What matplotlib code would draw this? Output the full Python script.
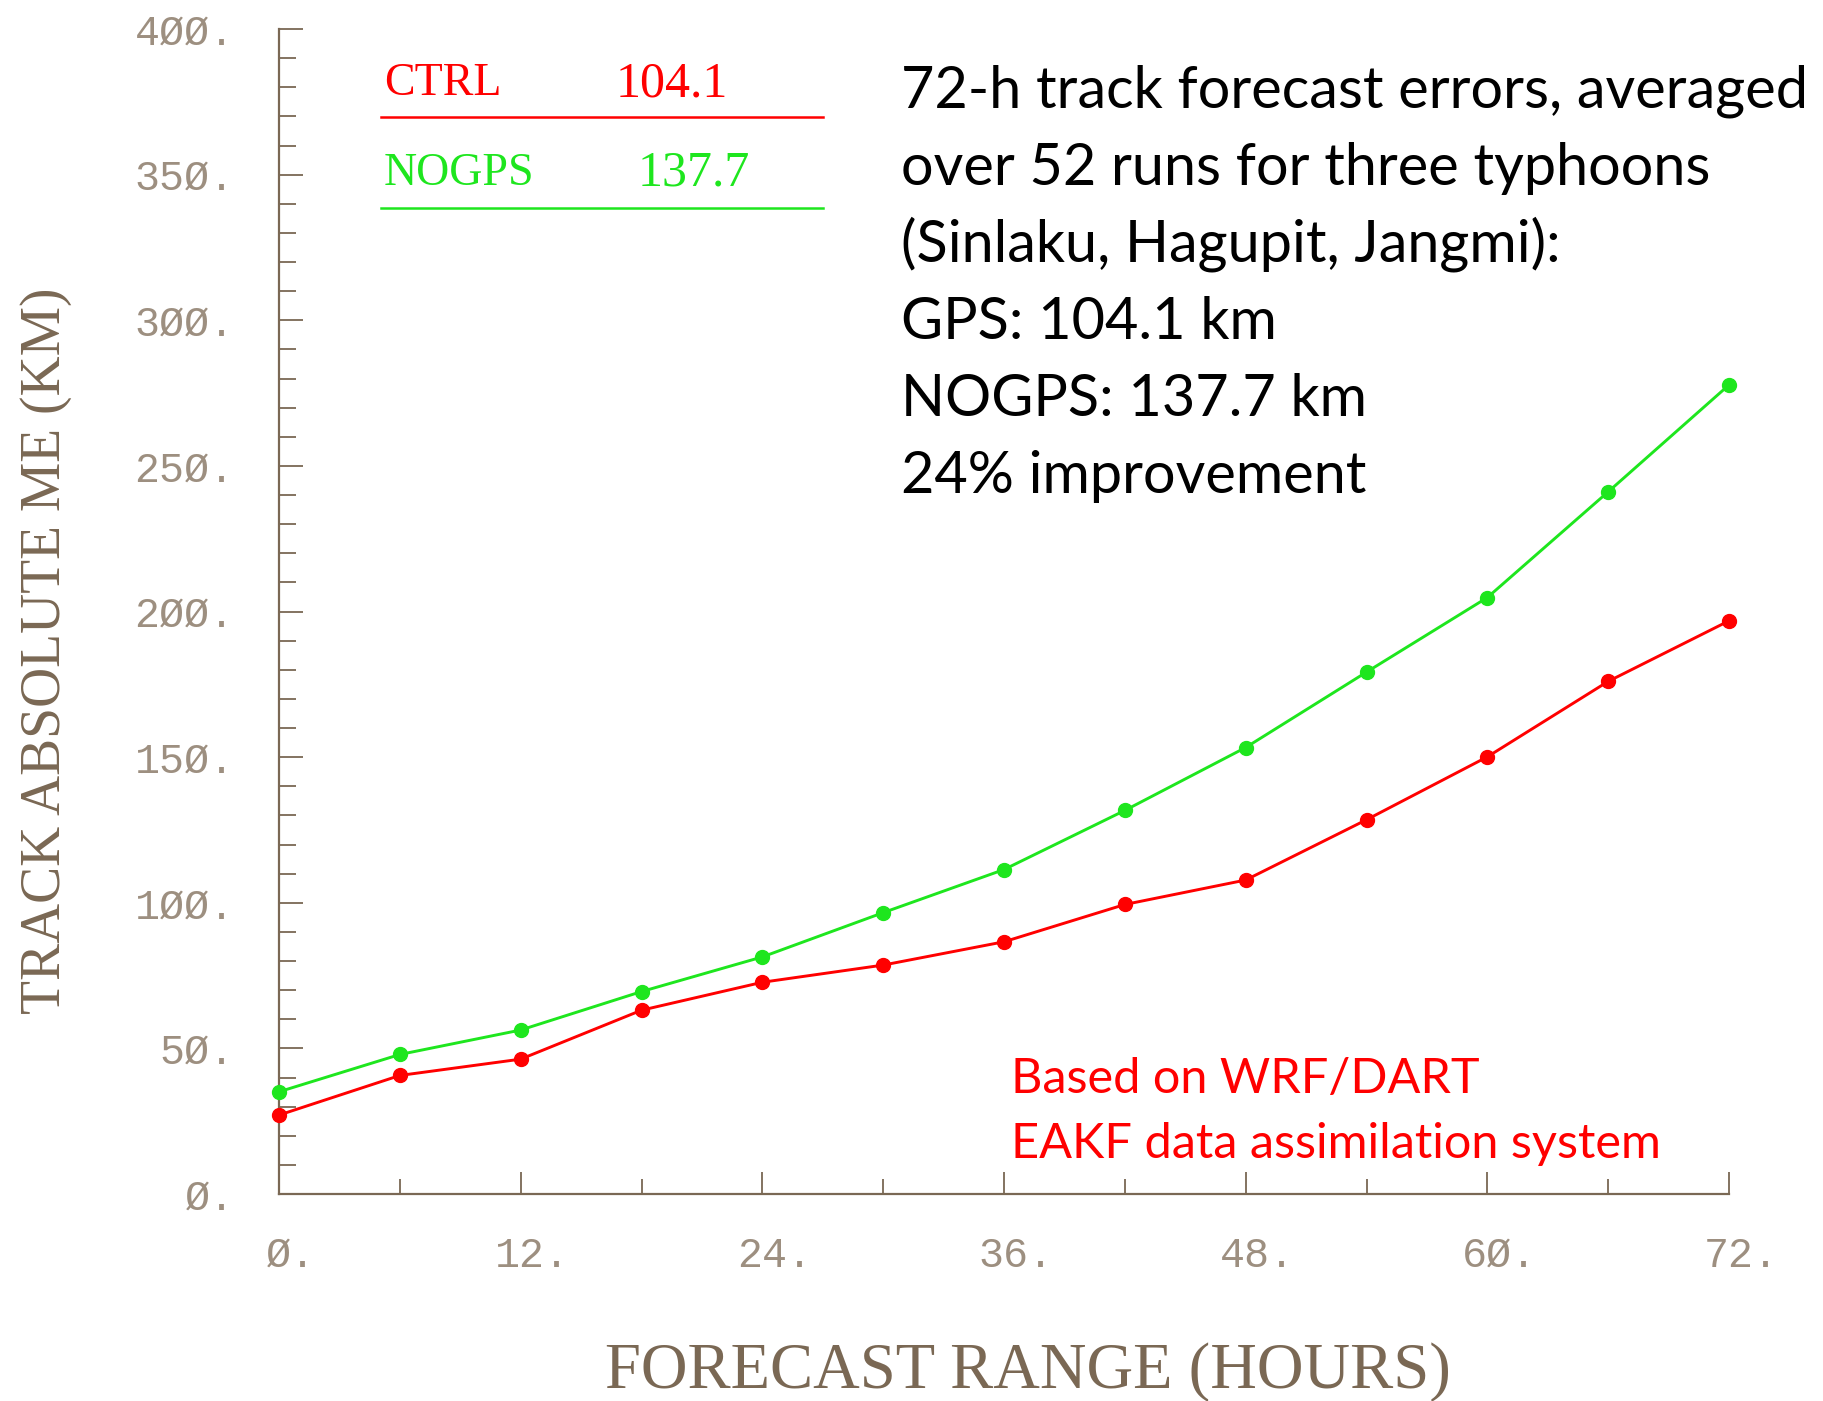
import numpy as np
import matplotlib
matplotlib.use("Agg")
import matplotlib.pyplot as plt
import matplotlib.transforms as mtransforms
from matplotlib.ticker import MultipleLocator, FixedLocator, FuncFormatter
from matplotlib.lines import Line2D

# forecast hours and mean track errors (km)
hours = [0, 6, 12, 18, 24, 30, 36, 42, 48, 54, 60, 66, 72]
ctrl_err = [27.1, 40.7, 46.3, 63.1, 72.7, 78.6, 86.6, 99.4, 107.8, 128.5, 150.1, 176.0, 196.8]
nogps_err = [35.1, 47.9, 56.3, 69.5, 81.4, 96.6, 111.4, 131.7, 153.3, 179.2, 204.8, 241.1, 277.8]

legend_names = ["CTRL", "NOGPS"]
legend_means = ["104.1", "137.7"]

note_lines = ["72-h track forecast errors, averaged",
              "over 52 runs for three typhoons",
              "(Sinlaku, Hagupit, Jangmi):",
              "GPS: 104.1 km",
              "NOGPS: 137.7 km",
              "24% improvement"]
system_lines = ["Based on WRF/DART", "EAKF data assimilation system"]

RED = "#ff0000"
GREEN = "#1ee61e"
BROWN = "#7a6854"
LABEL_GRAY = "#9d8f80"

W, H = 1823, 1401
fig = plt.figure(figsize=(W / 100, H / 100), dpi=100)
ax = fig.add_axes([279 / W, 207 / H, 1450 / W, 1165 / H])

ax.plot(hours, ctrl_err, color=RED, lw=2.1, marker="o", ms=10, clip_on=False, zorder=3)
ax.plot(hours, nogps_err, color=GREEN, lw=2.1, marker="o", ms=10, clip_on=False, zorder=3)

ax.set_xlim(0, 72)
ax.set_ylim(0, 400)
for s in ["top", "right"]:
    ax.spines[s].set_visible(False)
for s in ["left", "bottom"]:
    ax.spines[s].set_color(BROWN)
    ax.spines[s].set_linewidth(1.6)

# NCAR style labels: slashed zeros and a trailing dot
def zero_fmt(v, pos):
    return ("%d." % v).replace("0", "\u00d8")

ax.yaxis.set_major_locator(MultipleLocator(50))
ax.yaxis.set_minor_locator(MultipleLocator(10))
ax.xaxis.set_major_locator(MultipleLocator(12))
ax.xaxis.set_minor_locator(FixedLocator([6, 18, 30, 42, 54, 66]))
ax.xaxis.set_major_formatter(FuncFormatter(zero_fmt))
ax.yaxis.set_major_formatter(FuncFormatter(zero_fmt))

ax.tick_params(axis="y", which="major", direction="in", length=17, width=1.3, color=BROWN, pad=32)
ax.tick_params(axis="y", which="minor", direction="in", length=12, width=1.3, color=BROWN)
ax.tick_params(axis="x", which="major", direction="in", length=16, width=1.3, color=BROWN, pad=30)
ax.tick_params(axis="x", which="minor", direction="in", length=11, width=1.3, color=BROWN)
shift = mtransforms.ScaledTranslation(12 / 100, 0, fig.dpi_scale_trans)
for lab in ax.get_xticklabels() + ax.get_yticklabels():
    lab.set_fontfamily("Liberation Mono")
    lab.set_fontsize(30)
    lab.set_color(LABEL_GRAY)
for lab in ax.get_xticklabels():
    lab.set_transform(lab.get_transform() + shift)

fig.text(1028 / W, 1 - 1372 / H, "FORECAST RANGE (HOURS)", family="Liberation Serif",
         fontsize=46.5, color=BROWN, ha="center", va="center")
fig.text(46 / W, 1 - 651 / H, "TRACK ABSOLUTE ME (KM)", family="Liberation Serif",
         fontsize=40, color=BROWN, ha="center", va="center", rotation=90)

# legend block in the upper left
leg_colors = [RED, GREEN]
leg_text_y = [0.953, 0.876]
leg_line_y = [0.9245, 0.8464]
leg_val_x = [0.2324, 0.247]
for i in range(2):
    ax.text(0.0724, leg_text_y[i], legend_names[i], transform=ax.transAxes,
            family="Liberation Serif", fontsize=33, color=leg_colors[i], va="center")
    ax.text(leg_val_x[i], leg_text_y[i], legend_means[i], transform=ax.transAxes,
            family="Liberation Serif", fontsize=36, color=leg_colors[i], va="center")
    ax.add_line(Line2D([0.0703, 0.375], [leg_line_y[i], leg_line_y[i]], transform=ax.transAxes,
                       color=leg_colors[i], lw=1.8))

for i, line in enumerate(note_lines):
    fig.text(901 / W, 1 - (108 + 77 * i) / H, line, family="Lato", fontsize=41.5,
             color="black", ha="left", va="baseline")

for i, line in enumerate(system_lines):
    fig.text(1011 / W, 1 - (1093 + 65 * i) / H, line, family="Lato", fontsize=35,
             color=RED, ha="left", va="baseline")

fig.savefig("out.png", dpi=100)
